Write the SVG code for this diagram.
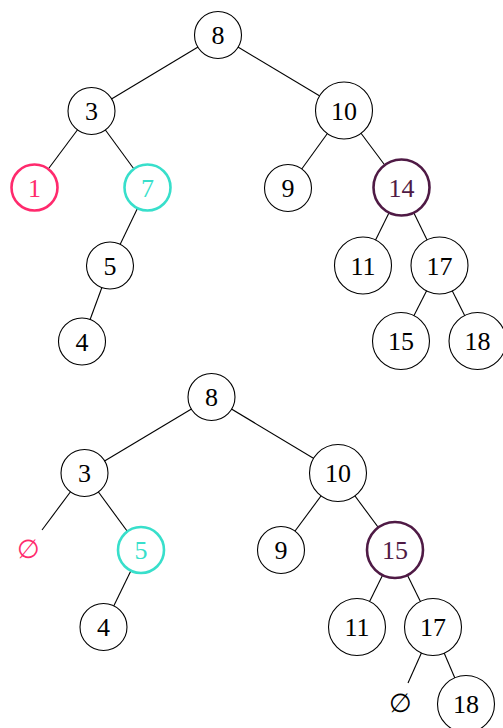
<svg xmlns="http://www.w3.org/2000/svg" width="503" height="728" viewBox="0 0 503 728">
<style>
  .edge { stroke: #000; stroke-width: 1.1; fill: none; }
  .n circle { fill: #fff; stroke: #000; stroke-width: 1.1; }
  .n text, .nil { font-family: "Liberation Serif", "DejaVu Serif", serif; font-size: 26px; text-anchor: middle; fill: #000; }
  .pink circle { stroke: #ff2a6d; stroke-width: 2.6; }
  .pink text, .nil.pink { fill: #ff2a6d; }
  .cyan circle { stroke: #38dfcb; stroke-width: 2.6; }
  .cyan text { fill: #38dfcb; }
  .purple circle { stroke: #4f1a45; stroke-width: 2.6; }
  .purple text { fill: #4f1a45; }
</style>
<g id="connectors">
  <line class="edge" x1="218" y1="35" x2="91.5" y2="111"/>
  <line class="edge" x1="218" y1="35" x2="344" y2="110.5"/>
  <line class="edge" x1="91.5" y1="111" x2="34.5" y2="187.5"/>
  <line class="edge" x1="91.5" y1="111" x2="147.5" y2="187.5"/>
  <line class="edge" x1="147.5" y1="187.5" x2="110" y2="265.5"/>
  <line class="edge" x1="110" y1="265.5" x2="82" y2="341.5"/>
  <line class="edge" x1="344" y1="110.5" x2="288" y2="188"/>
  <line class="edge" x1="344" y1="110.5" x2="401.5" y2="187.5"/>
  <line class="edge" x1="401.5" y1="187.5" x2="363" y2="265.5"/>
  <line class="edge" x1="401.5" y1="187.5" x2="439.5" y2="265.5"/>
  <line class="edge" x1="439.5" y1="265.5" x2="401" y2="341"/>
  <line class="edge" x1="439.5" y1="265.5" x2="477.5" y2="341"/>
  <line class="edge" x1="211.5" y1="397" x2="84.5" y2="473"/>
  <line class="edge" x1="211.5" y1="397" x2="338" y2="473"/>
  <line class="edge" x1="84.5" y1="473" x2="42" y2="530"/>
  <line class="edge" x1="84.5" y1="473" x2="141" y2="550"/>
  <line class="edge" x1="141" y1="550" x2="103.5" y2="627"/>
  <line class="edge" x1="338" y1="473" x2="281" y2="550"/>
  <line class="edge" x1="338" y1="473" x2="395" y2="550"/>
  <line class="edge" x1="395" y1="550" x2="357" y2="627"/>
  <line class="edge" x1="395" y1="550" x2="433" y2="627"/>
  <line class="edge" x1="433" y1="627" x2="408" y2="683"/>
  <line class="edge" x1="433" y1="627" x2="466" y2="704"/>
</g>
<g id="t8" class="n"><circle cx="218" cy="35" r="23.5"/><text x="218" y="44">8</text></g>
<g id="t3" class="n"><circle cx="91.5" cy="111" r="23.5"/><text x="91.5" y="120">3</text></g>
<g id="t1" class="n pink"><circle cx="34.5" cy="187.5" r="23"/><text x="34.5" y="196.5">1</text></g>
<g id="t7" class="n cyan"><circle cx="147.5" cy="187.5" r="23"/><text x="147.5" y="196.5">7</text></g>
<g id="t5" class="n"><circle cx="110" cy="265.5" r="23.5"/><text x="110" y="274.5">5</text></g>
<g id="t4" class="n"><circle cx="82" cy="341.5" r="23.5"/><text x="82" y="350.5">4</text></g>
<g id="t10" class="n"><circle cx="344" cy="110.5" r="28.5"/><text x="344" y="119.5">10</text></g>
<g id="t9" class="n"><circle cx="288" cy="188" r="23.5"/><text x="288" y="197">9</text></g>
<g id="t14" class="n purple"><circle cx="401.5" cy="187.5" r="28"/><text x="401.5" y="196.5">14</text></g>
<g id="t11" class="n"><circle cx="363" cy="265.5" r="28.5"/><text x="363" y="274.5">11</text></g>
<g id="t17" class="n"><circle cx="439.5" cy="265.5" r="28.5"/><text x="439.5" y="274.5">17</text></g>
<g id="t15" class="n"><circle cx="401" cy="341" r="28.5"/><text x="401" y="350">15</text></g>
<g id="t18" class="n"><circle cx="477.5" cy="341" r="28.5"/><text x="477.5" y="350">18</text></g>
<g id="b8" class="n"><circle cx="211.5" cy="397" r="23.5"/><text x="211.5" y="406">8</text></g>
<g id="b3" class="n"><circle cx="84.5" cy="473" r="23.5"/><text x="84.5" y="482">3</text></g>
<g id="bnil1"><text class="nil pink" x="28" y="558">∅</text></g>
<g id="b5" class="n cyan"><circle cx="141" cy="550" r="23"/><text x="141" y="559">5</text></g>
<g id="b4" class="n"><circle cx="103.5" cy="627" r="23.5"/><text x="103.5" y="636">4</text></g>
<g id="b10" class="n"><circle cx="338" cy="473" r="28.5"/><text x="338" y="482">10</text></g>
<g id="b9" class="n"><circle cx="281" cy="550" r="23.5"/><text x="281" y="559">9</text></g>
<g id="b15" class="n purple"><circle cx="395" cy="550" r="28"/><text x="395" y="559">15</text></g>
<g id="b11" class="n"><circle cx="357" cy="627" r="28.5"/><text x="357" y="636">11</text></g>
<g id="b17" class="n"><circle cx="433" cy="627" r="28.5"/><text x="433" y="636">17</text></g>
<g id="bnil2"><text class="nil" x="400" y="712">∅</text></g>
<g id="b18" class="n"><circle cx="466" cy="704" r="28.5"/><text x="466" y="713">18</text></g>
</svg>
